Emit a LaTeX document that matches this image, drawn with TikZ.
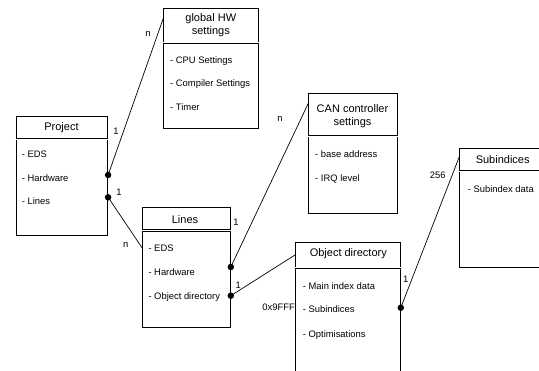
\documentclass[tikz,border=0pt]{standalone}
\usepackage{fontspec}
\setmainfont{Liberation Sans}
\usepackage{tikz}

\begin{document}
\begin{tikzpicture}[x=1pt,y=-1pt,
    classbox/.style={draw, line width=0.8pt, anchor=north west, inner sep=0pt},
    classname/.style={font=\fontsize{11}{13.5}\selectfont, align=center, inner sep=0pt},
    member/.style={font=\fontsize{9.4}{11}\selectfont, anchor=west, inner sep=0pt,
                   text height=6.8pt, text depth=0pt},
    card/.style={font=\fontsize{9.4}{11}\selectfont, inner sep=0pt,
                 text height=6.8pt, text depth=0pt},
    divider/.style={double, line width=0.7pt, double distance=0.9pt},
    link/.style={line width=0.7pt},
    joint/.style={circle, fill, inner sep=0pt, minimum size=6.5pt}]
\useasboundingbox (0,0) rectangle (539,371);
\clip (0,0) rectangle (539,371);

% Project
\node[classbox, minimum width=91.6pt, minimum height=119pt] (project) at (15.7,116) {};
\node[classname] (project-t) at (61.5,128) {Project};
\draw[divider] ([yshift=-23pt]project.north west) -- ([yshift=-23pt]project.north east);
\node[member] (project-eds)   at (21.7,154)   {- EDS};
\node[member] (project-hw)    at (21.7,177.7) {- Hardware};
\node[member] (project-lines) at (21.7,201)   {- Lines};

% global HW settings
\node[classbox, minimum width=95pt, minimum height=120pt] (global) at (163.3,8.3) {};
\node[classname] (global-t) at (210.8,25) {global HW\\settings};
\draw[divider] ([yshift=-34.4pt]global.north west) -- ([yshift=-34.4pt]global.north east);
\node[member] (global-cpu)   at (170,60)  {- CPU Settings};
\node[member] (global-comp)  at (170,83)  {- Compiler Settings};
\node[member] (global-timer) at (170,107) {- Timer};

% Lines
\node[classbox, minimum width=88pt, minimum height=119.4pt] (lines) at (142,207.3) {};
\node[classname] (lines-t) at (185,219.3) {Lines};
\draw[divider] ([yshift=-23.2pt]lines.north west) -- ([yshift=-23.2pt]lines.north east);
\node[member] (lines-eds) at (148.3,247.7) {- EDS};
\node[member] (lines-hw)  at (148.3,271.7) {- Hardware};
\node[member] (lines-od)  at (148.3,295.7) {- Object directory};

% CAN controller settings
\node[classbox, minimum width=88.4pt, minimum height=120pt] (can) at (308.3,93.3) {};
\node[classname] (can-t) at (352.5,116) {CAN controller\\settings};
\draw[divider] ([yshift=-43pt]can.north west) -- ([yshift=-43pt]can.north east);
\node[member] (can-base) at (315,154)   {- base address};
\node[member] (can-irq)  at (315,177.7) {- IRQ level};

% Object directory
\node[classbox, minimum width=105pt, minimum height=160pt] (od) at (295,241.7) {};
\node[classname] (od-t) at (348.3,254) {Object directory};
\draw[divider] ([yshift=-26pt]od.north west) -- ([yshift=-26pt]od.north east);
\node[member] (od-main) at (302.7,286)   {- Main index data};
\node[member] (od-sub)  at (302.7,309.3) {- Subindices};
\node[member] (od-opt)  at (302.7,334)   {- Optimisations};

% Subindices
\node[classbox, minimum width=87pt, minimum height=119.6pt] (sub) at (459.3,147.7) {};
\node[classname] (sub-t) at (502.7,159.3) {Subindices};
\draw[divider] ([yshift=-23.6pt]sub.north west) -- ([yshift=-23.6pt]sub.north east);
\node[member] (sub-data) at (467.7,189) {- Subindex data};

% associations
\node[joint] (j-hw)    at ([yshift=2.7pt]project.east |- project-hw) {};
\node[joint] (j-lines) at ([yshift=3.7pt]project.east |- project-lines) {};
\node[joint] (j-can)   at ([yshift=4.7pt]lines.east |- lines-hw) {};
\node[joint] (j-od)    at (lines.east |- lines-od) {};
\node[joint] (j-sub)   at ([yshift=1.6pt]od.east |- od-sub) {};

\draw[link] (j-hw.center)    -- ([yshift=-10pt]global.north west);
\draw[link] (j-lines.center) -- (lines.west |- lines-eds);
\draw[link] (j-can.center)   -- ([yshift=-10pt]can.north west);
\draw[link] (j-od.center)    -- ([yshift=-13.3pt]od.north west);
\draw[link] (j-sub.center)   -- ([yshift=-9pt]sub.north west);

% multiplicities
\node[card] (m-hw-a)    at (116,131)   {1};
\node[card] (m-hw-b)    at (148,33)    {n};
\node[card] (m-lines-a) at (119,191.7) {1};
\node[card] (m-lines-b) at (125.7,244.3) {n};
\node[card] (m-can-a)   at (236,222.3) {1};
\node[card] (m-can-b)   at (280,118.3) {n};
\node[card] (m-od-a)    at (238.3,285) {1};
\node[card, anchor=east] (m-od-b) at (295,306.7) {0x9FFF};
\node[card] (m-sub-a)   at (405.7,279) {1};
\node[card] (m-sub-b)   at (437.7,175) {256};
\end{tikzpicture}
\end{document}
